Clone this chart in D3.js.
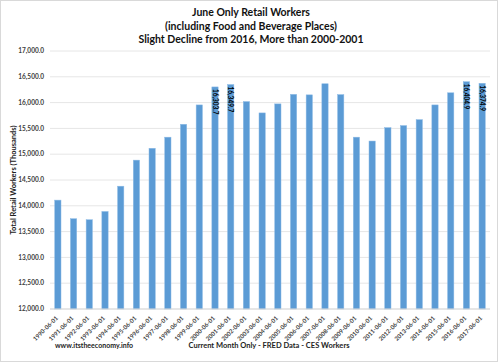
<!DOCTYPE html>
<html>
<head>
<meta charset="utf-8">
<script src="https://cdn.jsdelivr.net/npm/d3@7"></script>
<style>
  body { margin: 0; background: #fff; }
  svg text { font-family: Lato, "Open Sans", sans-serif; }
</style>
</head>
<body>
<div id="chart"></div>
<script>
// June values, thousands of retail workers
const years = d3.range(1990, 2018).map(y => y + "-06-01");
const workers = [14110, 13750, 13730, 13890, 14380, 14885, 15115, 15330, 15580, 15955,
                 16303.7, 16349.7, 16020, 15800, 15975, 16160, 16150, 16365, 16155, 15330,
                 15255, 15515, 15555, 15670, 15955, 16190, 16404.9, 16374.9];
const labelled = ["2000-06-01", "2001-06-01", "2016-06-01", "2017-06-01"];
const yTicks = d3.range(12000, 17001, 500);
const titleLines = ["June Only Retail Workers", "(including Food and Beverage Places)",
                    "Slight Decline from 2016, More than 2000-2001"];

const width = 498, height = 362;
const margin = {top: 51, right: 8, bottom: 53, left: 50};

const svg = d3.select("#chart")
  .append("svg")
    .attr("width", width)
    .attr("height", height);

svg.append("rect")
  .attr("x", 0.5).attr("y", 0.5)
  .attr("width", width - 1).attr("height", height - 1)
  .attr("fill", "#fff")
  .attr("stroke", "#d9d9d9");

const data = years.map((d, i) => ({date: d, value: workers[i]}));

const x = d3.scaleBand()
  .domain(years)
  .range([margin.left, width - margin.right])
  .paddingInner(0.6)
  .paddingOuter(0.3);

const y = d3.scaleLinear()
  .domain([12000, 17000])
  .range([height - margin.bottom, margin.top]);

// gridlines
svg.append("g")
  .selectAll("line")
  .data(yTicks)
  .join("line")
    .attr("x1", margin.left).attr("x2", width - margin.right)
    .attr("y1", d => y(d)).attr("y2", d => y(d))
    .attr("stroke", "#e6e6e6");

// y tick labels
svg.append("g")
  .selectAll("text")
  .data(yTicks)
  .join("text")
    .attr("x", margin.left - 6)
    .attr("y", d => y(d))
    .attr("dy", "0.35em")
    .attr("text-anchor", "end")
    .style("font-size", "6.5px")
    .style("font-weight", "bold")
    .style("fill", "#404040")
    .text(d => d3.format(",.1f")(d));

// bars
svg.append("g")
  .selectAll("rect")
  .data(data)
  .join("rect")
    .attr("x", d => x(d.date))
    .attr("y", d => y(d.value))
    .attr("width", x.bandwidth())
    .attr("height", d => y(12000) - y(d.value))
    .attr("fill", "#5b9bd5")
    .attr("stroke", "#8dbbe6")
    .attr("stroke-width", 0.5);

// value labels, rotated inside the bars
svg.append("g")
  .selectAll("text")
  .data(data.filter(d => labelled.includes(d.date)))
  .join("text")
    .attr("transform", d => `translate(${x(d.date) + x.bandwidth() / 2},${y(d.value) + 2}) rotate(90)`)
    .attr("dy", "0.35em")
    .style("font-size", "6.5px")
    .style("font-weight", "bold")
    .style("fill", "#000")
    .text(d => d3.format(",.1f")(d.value));

// x axis line
svg.append("line")
  .attr("x1", margin.left).attr("x2", width - margin.right)
  .attr("y1", y(12000)).attr("y2", y(12000))
  .attr("stroke", "#d9d9d9");

// x tick labels
svg.append("g")
  .selectAll("text")
  .data(years)
  .join("text")
    .attr("transform", d => `translate(${x(d) + x.bandwidth() / 2 - 1},${y(12000) + 8}) rotate(-45)`)
    .attr("text-anchor", "end")
    .attr("dy", "0.35em")
    .style("font-size", "6px")
    .style("font-weight", "bold")
    .style("fill", "#404040")
    .text(d => d);

// title
svg.append("g")
  .selectAll("text")
  .data(titleLines)
  .join("text")
    .attr("x", width / 2 + 2)
    .attr("y", (d, i) => 16 + i * 13.5)
    .attr("text-anchor", "middle")
    .style("font-size", "10.5px")
    .style("font-weight", "bold")
    .style("fill", "#111")
    .text(d => d);

// y axis title
svg.append("text")
  .attr("transform", `translate(16,${(y(12000) + y(17000)) / 2}) rotate(-90)`)
  .attr("text-anchor", "middle")
  .style("font-size", "7.5px")
  .style("font-weight", "bold")
  .style("fill", "#222")
  .text("Total Retail Workers (Thousands)");

// footer
svg.append("text")
  .attr("x", 55).attr("y", 348)
  .style("font-size", "7px")
  .style("font-weight", "bold")
  .style("fill", "#222")
  .text("www.itstheeconomy.info");

svg.append("text")
  .attr("x", 269).attr("y", 348)
  .attr("text-anchor", "middle")
  .style("font-size", "7.5px")
  .style("font-weight", "bold")
  .style("fill", "#222")
  .text("Current Month Only - FRED Data - CES Workers");
</script>
</body>
</html>
